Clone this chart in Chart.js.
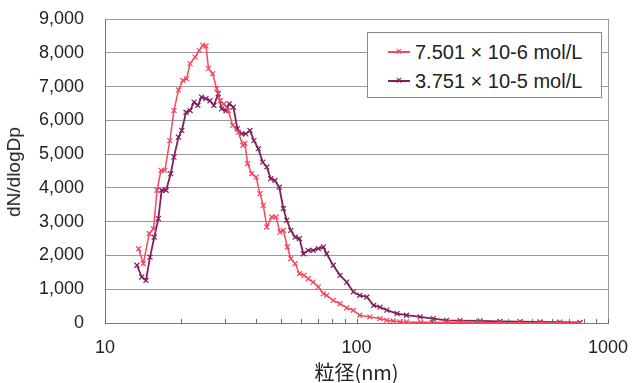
<!DOCTYPE html>
<html>
<head>
    <title>粒径分布</title>
    <script src="https://cdn.jsdelivr.net/npm/chart.js"></script>
    <style>
        body { margin: 0; background: #fff; }
        .wrap { position: relative; width: 633px; height: 383px; }
        .legend {
            position: absolute; left: 367px; top: 32px; width: 233px; height: 64px;
            border: 1px solid #8a8a8a; background: #fff;
            font-family: "Liberation Sans", Arial, sans-serif; font-size: 20px; color: #222;
        }
        .legend .row { position: absolute; left: 0; height: 24px; line-height: 24px; white-space: nowrap; }
        .legend .sample { position: absolute; left: 20px; top: 11px; width: 22px; height: 2px; }
        .legend .mark { position: absolute; left: 28px; top: 7px; font-size: 10px; line-height: 10px; font-weight: bold; }
        .legend .txt { position: absolute; left: 47px; top: 0; }
        .ytitle {
            position: absolute; left: 14px; top: 172px; transform: translate(-50%, -50%) rotate(-90deg);
            font-family: "Liberation Sans", Arial, sans-serif; font-size: 19px; color: #222; white-space: nowrap;
        }
    </style>
</head>
<body>
<div class="wrap">
    <canvas id="psd" width="633" height="383"></canvas>
    <div class="ytitle">dN/dlogDp</div>
    <div class="legend">
        <div class="row" style="top:7px">
            <span class="sample" style="background:#f5475e"></span>
            <span class="mark" style="color:#f5475e">×</span>
            <span class="txt">7.501 × 10-6 mol/L</span>
        </div>
        <div class="row" style="top:36px">
            <span class="sample" style="background:#80205e"></span>
            <span class="mark" style="color:#80205e">×</span>
            <span class="txt">3.751 × 10-5 mol/L</span>
        </div>
    </div>
</div>
<script>
// 7.501×10-6 mol/L の粒径 (nm) と dN/dlogDp
const redDiameters = [13.6, 14.2, 15.0, 15.6, 16.1, 16.7, 17.3, 18.1, 18.8, 19.6, 20.4, 21.1, 21.8, 22.8, 23.7, 24.5, 25.2,
    25.8, 26.8, 27.8, 28.7, 29.7, 30.9, 32.2, 33.9, 35.3, 36.0, 36.9, 38.3, 39.9, 41.3, 42.6, 44.0, 46.0, 47.9,
    49.6, 51.2, 53.1, 54.8, 57.0, 59.3, 61.9, 64.3, 67.3, 70.5, 73.8, 76.1, 80.8, 86.0, 91.4, 97.1, 103, 113,
    124, 132, 140, 149, 158, 180, 200, 230, 260, 310, 370, 450, 540, 640, 774];
const redValues = [2200, 1760, 2650, 2790, 3930, 4520, 4520, 5400, 6290, 6900, 7180, 7230, 7680, 7870, 8070, 8220, 8200,
    7530, 7380, 6940, 6580, 6490, 6290, 5850, 5650, 5260, 5320, 4720, 4420, 4320, 3830, 3480, 2840, 3140, 3140,
    2690, 2740, 2250, 1900, 1760, 1460, 1410, 1310, 1210, 1070, 870, 820, 670, 570, 450, 376, 230, 180,
    130, 80, 60, 30, 30, 20, 20, 15, 15, 10, 10, 5, 5, 5, 0];

// 3.751×10-5 mol/L
const purpleDiameters = [13.4, 14.0, 14.55, 15.1, 15.7, 16.3, 16.8, 17.5, 18.25, 18.8, 19.6, 20.2, 21.0, 21.8, 22.6, 23.4,
    24.2, 25.2, 26.15, 27.1, 28.2, 29.1, 30.3, 31.2, 32.4, 33.6, 34.95, 36.3, 37.7, 39.1, 40.7, 42.4, 44.0,
    45.6, 47.4, 49.3, 51.2, 52.8, 54.8, 57.0, 59.3, 61.5, 64.3, 67.3, 70.5, 73.8, 76.1, 80.8, 86.0, 91.4, 97.1,
    103, 110, 117, 124, 132, 145, 158, 179, 202, 228, 258, 310, 372, 447, 537, 644, 774];
const purpleValues = [1710, 1360, 1260, 1950, 2540, 3090, 3930, 3930, 4420, 4910, 5500, 5700, 6240, 6290, 6540, 6440,
    6690, 6640, 6580, 6440, 6790, 6340, 6290, 6490, 6390, 5750, 5600, 5600, 5700, 5400, 5160, 4760, 4620,
    4270, 4220, 4020, 3390, 3040, 2740, 2540, 2500, 2050, 2150, 2150, 2200, 2250, 2050, 1710, 1410, 1210, 920,
    820, 770, 520, 470, 380, 280, 230, 180, 130, 80, 70, 60, 50, 40, 30, 25, 20];

const xTickLabels = [10, 100, 1000];

function toPoints(xs, ys) {
    return xs.map((x, i) => ({ x: x, y: ys[i] }));
}

// 枠の右端と x 軸の内向き目盛り
const framePlugin = {
    id: 'frame',
    afterDraw(chart) {
        const ctx = chart.ctx;
        const a = chart.chartArea;
        const xs = chart.scales.x;
        ctx.save();
        ctx.strokeStyle = '#9a9a9a';
        ctx.lineWidth = 1;
        ctx.beginPath();
        ctx.moveTo(a.right + 0.5, a.top);
        ctx.lineTo(a.right + 0.5, a.bottom);
        ctx.stroke();
        ctx.strokeStyle = '#666';
        ctx.beginPath();
        xs.ticks.forEach(t => {
            const px = Math.round(xs.getPixelForValue(t.value)) + 0.5;
            ctx.moveTo(px, a.bottom);
            ctx.lineTo(px, a.bottom - 4);
        });
        ctx.stroke();
        ctx.restore();
    }
};

const ctx = document.getElementById('psd').getContext('2d');
new Chart(ctx, {
    type: 'line',
    data: {
        datasets: [
            {
                label: '7.501 × 10-6 mol/L',
                data: toPoints(redDiameters, redValues),
                borderColor: '#f5475e',
                pointBorderColor: '#f5475e',
                pointStyle: 'crossRot',
                pointRadius: 3.5,
                pointBorderWidth: 1.2,
                borderWidth: 1.5,
                tension: 0
            },
            {
                label: '3.751 × 10-5 mol/L',
                data: toPoints(purpleDiameters, purpleValues),
                borderColor: '#80205e',
                pointBorderColor: '#80205e',
                pointStyle: 'crossRot',
                pointRadius: 3.5,
                pointBorderWidth: 1.2,
                borderWidth: 1.8,
                tension: 0
            }
        ]
    },
    options: {
        responsive: false,
        animation: false,
        layout: { padding: { top: 19, right: 25, left: 0, bottom: 0 } },
        plugins: {
            legend: { display: false },
            tooltip: { enabled: false }
        },
        scales: {
            x: {
                type: 'logarithmic',
                min: 10,
                max: 1000,
                afterFit(scale) {
                    scale.height = 60;
                    scale.paddingLeft = 0;
                    scale.paddingRight = 0;
                },
                border: { color: '#777', width: 1 },
                grid: { drawOnChartArea: false, drawTicks: false },
                ticks: {
                    autoSkip: false,
                    maxRotation: 0,
                    padding: 14,
                    color: '#222',
                    font: { family: 'Liberation Sans', size: 18 },
                    callback: v => xTickLabels.includes(v) ? String(v) : ''
                },
                title: {
                    display: true,
                    text: '粒径(nm)',
                    color: '#222',
                    padding: { top: 0, bottom: -1 },
                    font: { family: 'Noto Sans CJK JP', size: 20 }
                }
            },
            y: {
                min: 0,
                max: 9000,
                afterFit(scale) {
                    scale.width = 105;
                    scale.paddingTop = 0;
                    scale.paddingBottom = 0;
                },
                border: { color: '#777', width: 1 },
                grid: { color: '#9a9a9a', lineWidth: 1, drawTicks: false },
                ticks: {
                    stepSize: 1000,
                    padding: 21,
                    color: '#222',
                    font: { family: 'Liberation Sans', size: 18 },
                    callback: v => v.toLocaleString('en-US')
                }
            }
        }
    },
    plugins: [framePlugin]
});
</script>
</body>
</html>
